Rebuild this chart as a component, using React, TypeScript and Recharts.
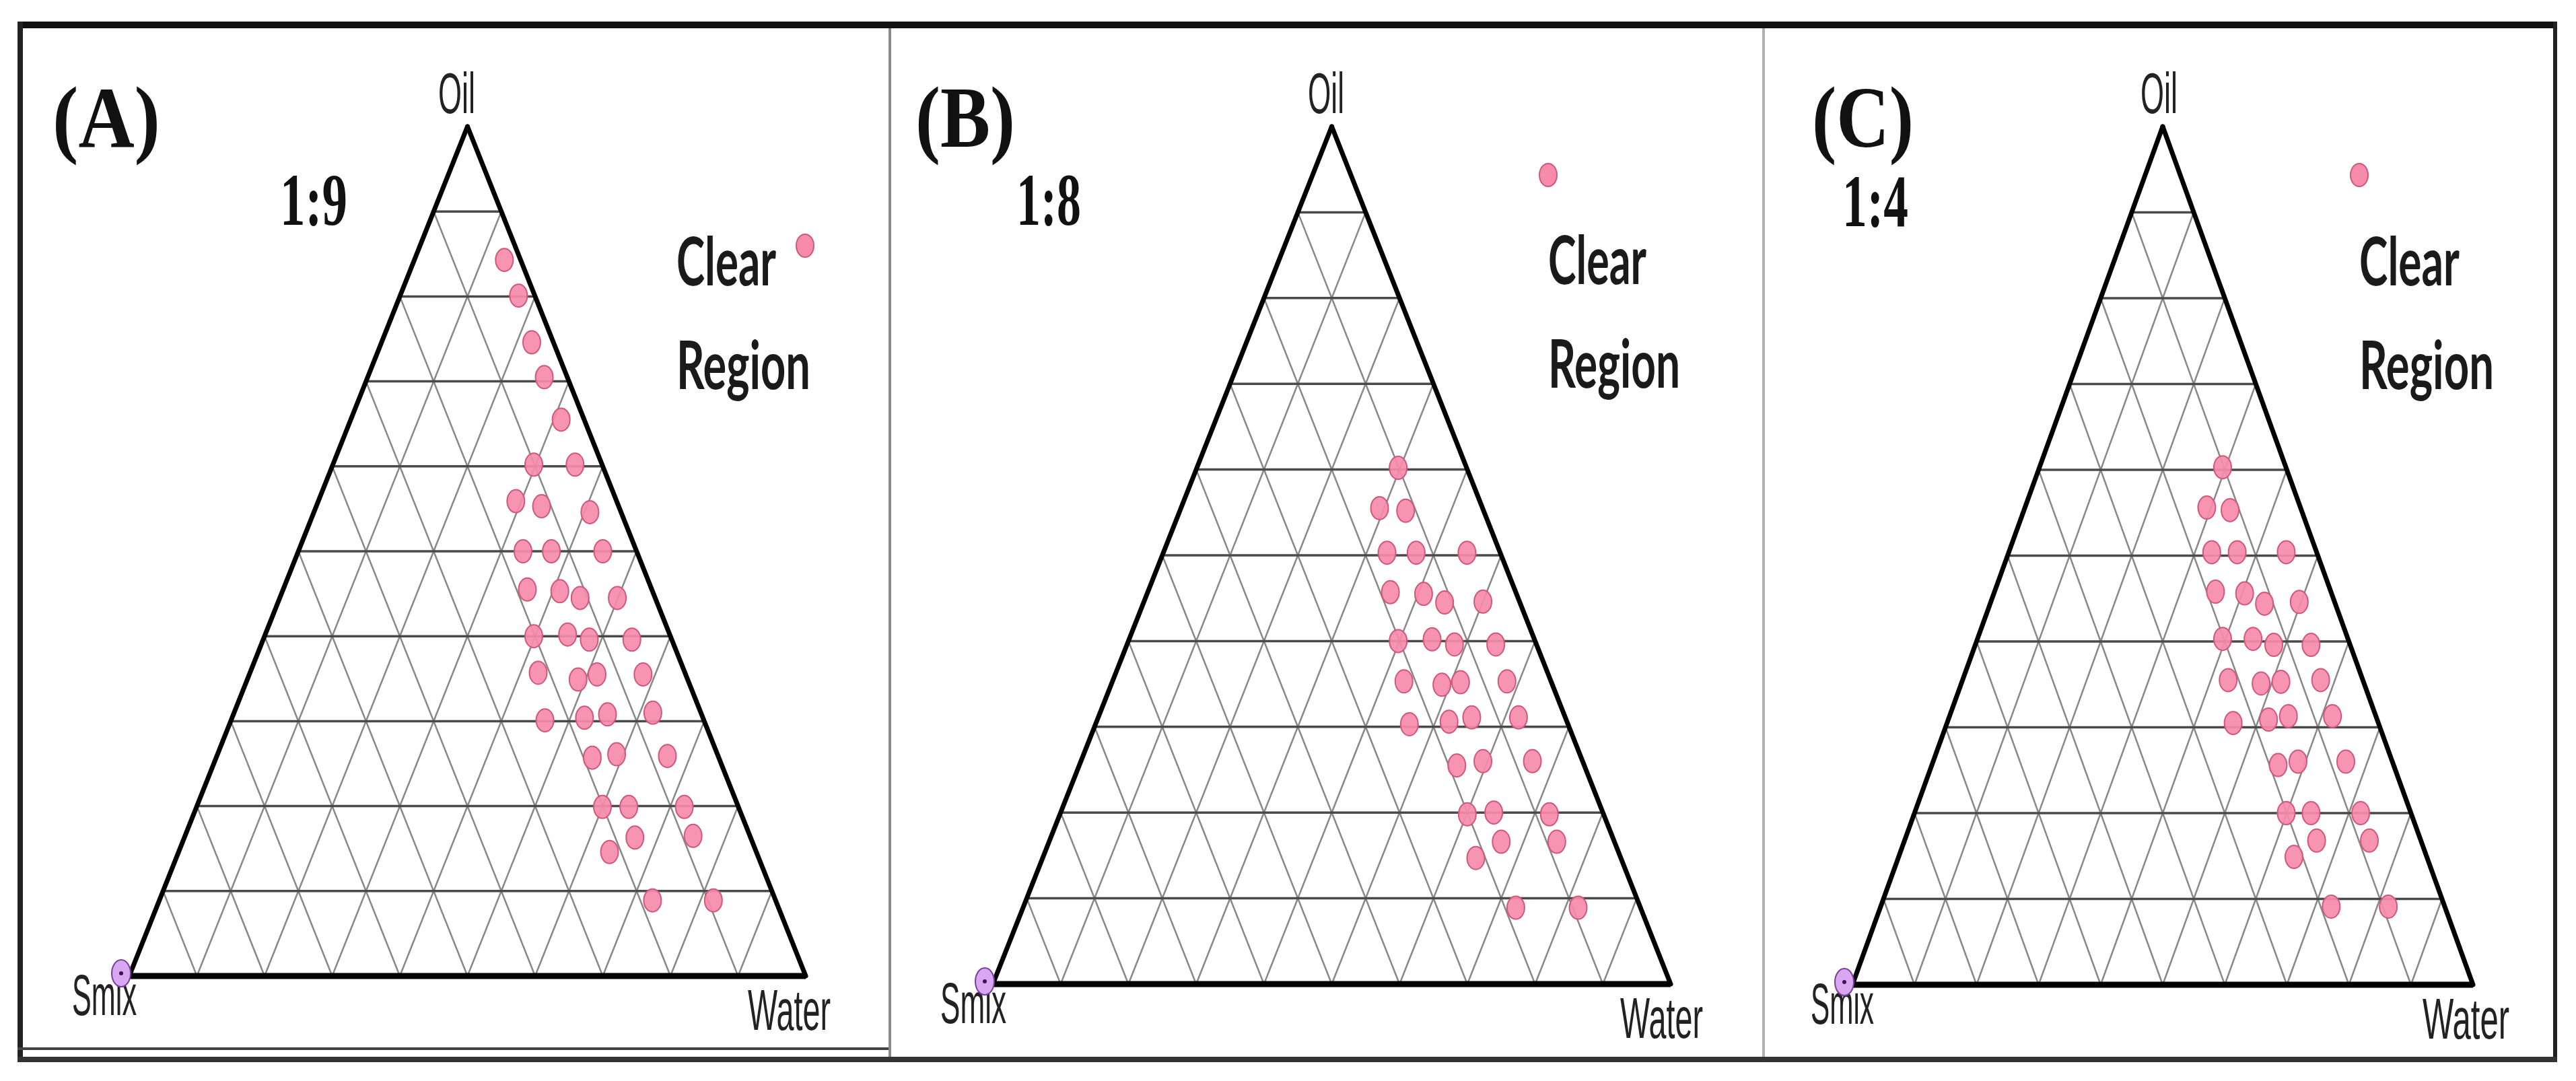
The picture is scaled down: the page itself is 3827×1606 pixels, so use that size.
import React from 'react';
import { ScatterChart, Scatter, XAxis, YAxis, ReferenceLine, Customized } from 'recharts';

// ---------- data (compositions in %, smix = 100 - oil - water) ----------
const oilA = [84.3, 80.1, 74.6, 70.5, 65.5, 60.2, 60.2, 55.9, 55.3, 54.6, 50, 50, 50, 45.5, 45.3, 44.5, 44.5, 40, 40.2, 39.6, 39.6, 35.7, 34.9, 35.5, 35.5, 30.1, 30.4, 30.8, 31.0, 25.7, 26.1, 25.9, 19.9, 19.9, 19.9, 14.6, 16.3, 16.5, 8.9, 8.9];
const waterA = [13.3, 17.5, 22.2, 26.1, 31.1, 29.7, 35.8, 29.2, 33.3, 40.8, 33.2, 37.4, 45.0, 36.1, 41.0, 44.4, 49.9, 39.8, 44.7, 48.2, 54.5, 42.6, 48.9, 51.4, 58.2, 46.4, 52.1, 55.3, 61.9, 55.6, 59.0, 66.6, 60.0, 63.9, 72.1, 63.7, 66.6, 75.1, 72.9, 81.9];

const oilB = [60.2, 55.5, 55.2, 50.3, 50.3, 50.3, 45.7, 45.5, 44.5, 44.6, 40.0, 40.2, 39.6, 39.6, 35.3, 34.9, 35.2, 35.3, 30.3, 30.6, 31.1, 31.1, 25.5, 26.0, 26.0, 19.8, 20.0, 19.8, 14.7, 16.6, 16.6, 8.9, 8.9];
const waterB = [29.7, 29.3, 33.3, 33.0, 37.3, 44.8, 35.8, 40.8, 44.4, 50.0, 39.8, 44.7, 48.3, 54.4, 43.0, 48.8, 51.4, 58.2, 46.3, 52.0, 55.1, 62.0, 55.7, 59.3, 66.6, 60.1, 63.9, 72.2, 63.9, 66.7, 74.9, 72.7, 81.9];

const oilC = [60.3, 55.6, 55.3, 50.4, 50.4, 50.4, 45.8, 45.6, 44.4, 44.6, 40.3, 40.3, 39.6, 39.6, 35.5, 35.1, 35.3, 35.5, 30.5, 30.9, 31.3, 31.3, 25.6, 26.0, 26.0, 20.0, 20.0, 20.0, 14.9, 16.8, 16.8, 9.1, 9.1];
const waterC = [29.5, 29.3, 33.2, 32.7, 36.8, 44.7, 35.6, 40.4, 44.2, 49.7, 39.5, 44.4, 48.1, 54.1, 42.8, 48.3, 51.4, 57.7, 46.1, 51.6, 54.6, 61.7, 55.8, 58.8, 66.5, 59.9, 63.9, 71.9, 63.7, 66.4, 74.9, 72.6, 81.8];

const GRID_STEPS = [10, 20, 30, 40, 50, 60, 70, 80, 90];
const VERTEX_LABELS = ['Oil', 'Smix', 'Water'];
const PANEL_TAGS = ['(A)', '(B)', '(C)'];
const RATIOS = ['1:9', '1:8', '1:4'];
const LEGEND_LINES = ['Clear', 'Region'];
const SMIX_VERTEX = [{ oil: 0, water: 0 }];

// ---------- layout ----------
const W = 3827;
const H = 1606;
const EXTRA = 160; // chart canvas extends right (transparent) so labels have room

const PANELS = [
  {
    x0: 0, x1: 1322, left: 192, right: 1197, top: 188, base: 1450, oil: oilA, water: waterA,
    tag: { x: 78, y: 218, w: 160 }, ratio: { x: 416, y: 334, w: 100 },
    oilLbl: { x: 651, y: 168, w: 55 }, smixLbl: { x: 107, y: 1508, w: 96 }, waterLbl: { x: 1111, y: 1530, w: 123 },
    clear: { x: 1005, y: 424, w: 148 }, region: { x: 1005, y: 578, w: 199 }, dot: { x: 1196, y: 365 },
  },
  {
    x0: 1322, x1: 2620, left: 1475, right: 2482, top: 188, base: 1462, oil: oilB, water: waterB,
    tag: { x: 1360, y: 218, w: 148 }, ratio: { x: 1510, y: 334, w: 96 },
    oilLbl: { x: 1943, y: 168, w: 54 }, smixLbl: { x: 1397, y: 1520, w: 98 }, waterLbl: { x: 2407, y: 1542, w: 123 },
    clear: { x: 2300, y: 422, w: 146 }, region: { x: 2300, y: 576, w: 196 }, dot: { x: 2300, y: 260 },
  },
  {
    x0: 2620, x1: 3827, left: 2752, right: 3674, top: 188, base: 1463, oil: oilC, water: waterC,
    tag: { x: 2692, y: 218, w: 151 }, ratio: { x: 2737, y: 336, w: 98 },
    oilLbl: { x: 3180, y: 168, w: 55 }, smixLbl: { x: 2690, y: 1521, w: 94 }, waterLbl: { x: 3599, y: 1543, w: 129 },
    clear: { x: 3505, y: 424, w: 149 }, region: { x: 3505, y: 578, w: 200 }, dot: { x: 3505, y: 260 },
  },
];

const toXY = (oil: number[], water: number[]) => oil.map((o, i) => ({ x: water[i] + o / 2, y: o }));

const PINK = '#F68BAB';
const PINK_STROKE = '#D2577D';

const PointShape = (props: any) => (
  <ellipse cx={props.cx} cy={props.cy} rx={13} ry={17} fill={PINK} fillOpacity={0.92} stroke={PINK_STROKE} strokeWidth={2} />
);

const SmixShape = (props: any) => (
  <g>
    <ellipse cx={props.cx - 12} cy={props.cy - 4} rx={14} ry={20} fill="#D9A6F2" stroke="#7A3E9E" strokeWidth={2} />
    <circle cx={props.cx - 12} cy={props.cy - 4} r={3} fill="#3a1450" />
  </g>
);

const Txt = ({ x, y, w, size, family, weight, fill, children }: any) => (
  <text x={x} y={y} textLength={w} lengthAdjust="spacingAndGlyphs" fontSize={size} fontFamily={family}
    fontWeight={weight} fill={fill}>{children}</text>
);

const SERIF = '"Liberation Serif", "Times New Roman", serif';
const NARROW = '"Liberation Sans Narrow", "Liberation Sans", Arial, sans-serif';
const BOLDSANS = 'Lato, "Open Sans", "Liberation Sans", sans-serif';

function Panel({ p, idx }: { p: any; idx: number }) {
  const width = Math.min(p.x1 + EXTRA, W) - p.x0;
  const ox = p.x0;
  const data = toXY(p.oil, p.water);
  const smixData = SMIX_VERTEX.map((d) => ({ x: d.water + d.oil / 2, y: d.oil }));
  const margin = { top: p.top, bottom: H - p.base, left: p.left - ox, right: ox + width - p.right };

  const texts = () => (
    <g>
      <Txt x={p.tag.x - ox} y={p.tag.y} w={p.tag.w} size={130} family={SERIF} weight="bold" fill="#111">{PANEL_TAGS[idx]}</Txt>
      <Txt x={p.ratio.x - ox} y={p.ratio.y} w={p.ratio.w} size={110} family={SERIF} weight="bold" fill="#111">{RATIOS[idx]}</Txt>
      <Txt x={p.oilLbl.x - ox} y={p.oilLbl.y} w={p.oilLbl.w} size={85} family={NARROW} weight="normal" fill="#222">{VERTEX_LABELS[0]}</Txt>
      <Txt x={p.smixLbl.x - ox} y={p.smixLbl.y} w={p.smixLbl.w} size={85} family={NARROW} weight="normal" fill="#222">{VERTEX_LABELS[1]}</Txt>
      <Txt x={p.waterLbl.x - ox} y={p.waterLbl.y} w={p.waterLbl.w} size={85} family={NARROW} weight="normal" fill="#222">{VERTEX_LABELS[2]}</Txt>
      <Txt x={p.clear.x - ox} y={p.clear.y} w={p.clear.w} size={100} family={BOLDSANS} weight="bold" fill="#1a1a1a">{LEGEND_LINES[0]}</Txt>
      <Txt x={p.region.x - ox} y={p.region.y} w={p.region.w} size={100} family={BOLDSANS} weight="bold" fill="#1a1a1a">{LEGEND_LINES[1]}</Txt>
      <ellipse cx={p.dot.x - ox} cy={p.dot.y} rx={13} ry={17} fill={PINK} stroke={PINK_STROKE} strokeWidth={2} />
    </g>
  );

  const GRID_H = '#4a4a4a';
  const GRID_D = '#888888';

  return (
    <div style={{ position: 'absolute', left: ox, top: 0, width, height: H }}>
      <ScatterChart width={width} height={H} margin={margin} style={{ overflow: 'visible' }}>
        <XAxis type="number" dataKey="x" domain={[0, 100]} hide />
        <YAxis type="number" dataKey="y" domain={[0, 100]} hide />
        {GRID_STEPS.map((w) => (
          <ReferenceLine key={'w' + w} ifOverflow="visible" stroke={GRID_D} strokeWidth={2.5}
            segment={[{ x: w, y: 0 }, { x: w + (100 - w) / 2, y: 100 - w }]} />
        ))}
        {GRID_STEPS.map((s) => (
          <ReferenceLine key={'s' + s} ifOverflow="visible" stroke={GRID_D} strokeWidth={2.5}
            segment={[{ x: 100 - s, y: 0 }, { x: (100 - s) / 2, y: 100 - s }]} />
        ))}
        {GRID_STEPS.map((o) => (
          <ReferenceLine key={'o' + o} ifOverflow="visible" stroke={GRID_H} strokeWidth={3.5}
            segment={[{ x: o / 2, y: o }, { x: 100 - o / 2, y: o }]} />
        ))}
        <ReferenceLine ifOverflow="visible" stroke="#000" strokeWidth={7} strokeLinecap="round"
          segment={[{ x: 0, y: 0 }, { x: 50, y: 100 }]} />
        <ReferenceLine ifOverflow="visible" stroke="#000" strokeWidth={7} strokeLinecap="round"
          segment={[{ x: 100, y: 0 }, { x: 50, y: 100 }]} />
        <ReferenceLine ifOverflow="visible" stroke="#000" strokeWidth={9}
          segment={[{ x: 0, y: 0 }, { x: 100, y: 0 }]} />
        <Scatter data={data} isAnimationActive={false} shape={PointShape} />
        <Scatter data={smixData} isAnimationActive={false} shape={SmixShape} />
        <Customized component={texts} />
      </ScatterChart>
    </div>
  );
}

const line = (style: React.CSSProperties) => <div style={{ position: 'absolute', ...style }} />;

export default function App() {
  return (
    <div style={{ position: 'absolute', left: 0, top: 0, width: W, height: H, background: '#fff', overflow: 'hidden' }}>
      {PANELS.map((p, i) => <Panel key={i} p={p} idx={i} />)}
      {line({ left: 26, top: 32, width: 3773, height: 10, background: '#111' })}
      {line({ left: 26, top: 32, width: 8, height: 1546, background: '#222' })}
      {line({ left: 3793, top: 32, width: 6, height: 1546, background: '#222' })}
      {line({ left: 26, top: 1570, width: 3773, height: 8, background: '#333' })}
      {line({ left: 26, top: 1556, width: 1298, height: 4, background: '#444' })}
      {line({ left: 1320, top: 42, width: 4, height: 1528, background: '#8a8a8a' })}
      {line({ left: 2618, top: 42, width: 4, height: 1528, background: '#b0b0b0' })}
    </div>
  );
}
